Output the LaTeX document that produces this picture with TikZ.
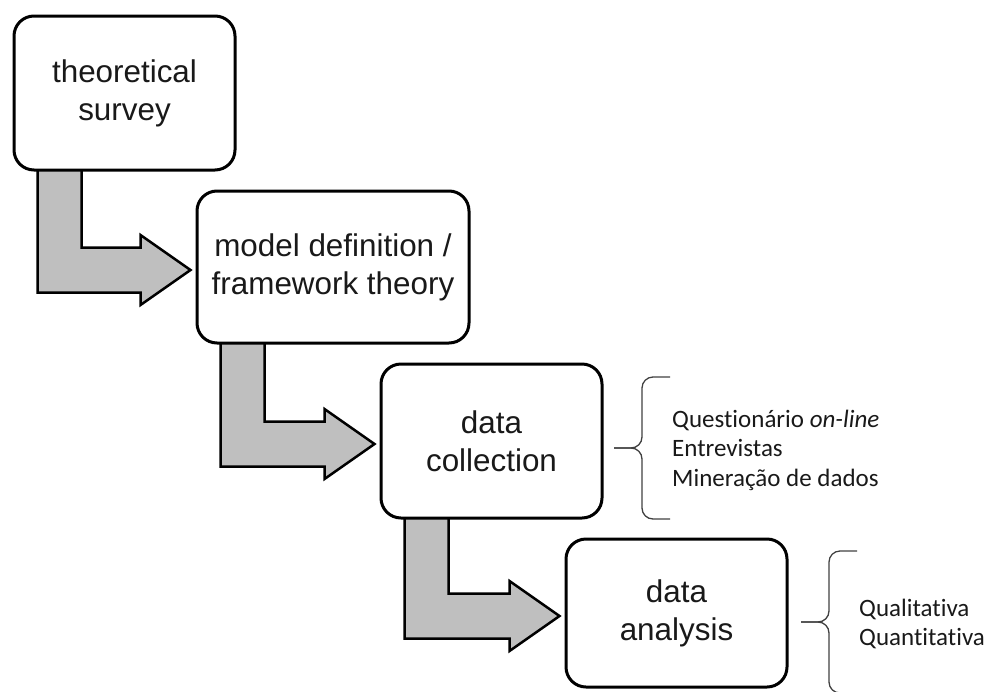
\documentclass[tikz,border=0pt]{standalone}
\usepackage{fontspec}
\setmainfont{Liberation Sans}
\newfontfamily\listfont[Ligatures=NoCommon]{Carlito}
\usetikzlibrary{calc,backgrounds}

\begin{document}
\begin{tikzpicture}[x=1pt,y=-1pt,
  stage/.style={draw=black, line width=3pt, fill=white, rounded corners=20pt,
    align=center, inner sep=0pt, text=black!90,
    font=\fontsize{31.4}{38}\selectfont},
  flowarrow/.style={draw=black, line width=2.5pt, fill=black!25, line join=miter},
  bracket/.style={draw=black!75, line width=1.3pt, rounded corners=11pt},
  itemlist/.style={anchor=west, align=left, inner sep=0pt, text=black!90,
    font=\listfont\fontsize{25}{29.5}\selectfont}]

\useasboundingbox (0,0) rectangle (985,691);

\node[stage, minimum width=221pt, minimum height=154pt] (survey) at (124.5,93) {theoretical\\survey};

\node[stage, minimum width=272pt, minimum height=152pt] (model) at (333,267) {model definition /\\framework theory};

\node[stage, minimum width=221pt, minimum height=154pt] (collect) at (491.5,441) {data\\collection};

\node[stage, minimum width=221pt, minimum height=148pt] (analysis) at (676.5,613) {data\\analysis};

\node[itemlist] (collectlist) at (672,450) {Questionário \textit{on-line}\\Entrevistas\\Mineração de dados};

\node[itemlist] (analysislist) at (859,624) {Qualitativa\\Quantitativa};

% bent arrows between the stages
\begin{scope}[on background layer]
\foreach \a/\b in {survey/model, model/collect, collect/analysis}{
  \coordinate (top) at ($(\a.south west)+(25,-6)$);
  \coordinate (tip) at ($(\b.west)+(-5,3)$);
  \draw[flowarrow] (top) -- ($(top |- tip)+(0,22.5)$) -- ($(tip)+(-50,22.5)$)
    -- ($(tip)+(-50,35)$) -- (tip) -- ($(tip)+(-50,-35)$)
    -- ($(tip)+(-50,-22.5)$) -- ($(top |- tip)+(44,-22.5)$) -- ($(top)+(44,0)$) -- cycle;
}
\end{scope}

% braces
\foreach \l in {collectlist, analysislist}{
  \draw[bracket] ($(\l.west)+(-2,-73)$) -| ($(\l.west)+(-30,-2)$) -- ($(\l.west)+(-58,-2)$);
  \draw[bracket] ($(\l.west)+(-2,69)$) -| ($(\l.west)+(-30,-2)$) -- ($(\l.west)+(-58,-2)$);
}

\end{tikzpicture}
\end{document}
